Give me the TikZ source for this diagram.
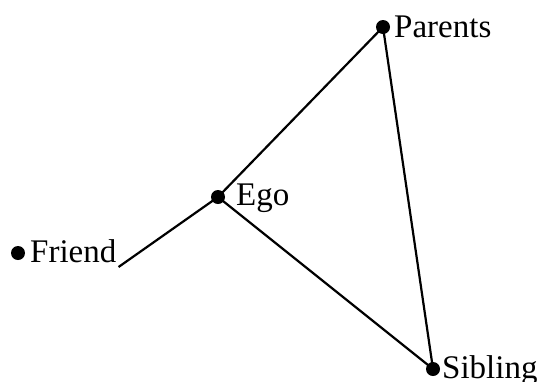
\documentclass[tikz,border=0pt]{standalone}
\usepackage{fontspec}
\setmainfont{Liberation Serif}
\begin{document}
\begin{tikzpicture}[x=1pt,y=-1pt,
  dot/.style={circle,fill=black,inner sep=0pt,minimum size=14pt},
  lbl/.style={anchor=base west,inner sep=0pt,font=\fontsize{33}{40}\selectfont},
  edge/.style={line width=2.2pt}]
\useasboundingbox (0,0) rectangle (541,381);
% vertices
\node[dot] (parents) at (383,27) {};
\node[dot] (ego) at (218,197) {};
\node[dot] (friend) at (18,253) {};
\node[dot] (sibling) at (433,369) {};
% labels
\node[lbl] (tparents) at (394,37) {Parents};
\node[lbl] (tego) at (236,205) {Ego};
\node[lbl] (tfriend) at (30,262) {Friend};
\node[lbl] (tsibling) at (442,378) {Sibling};
% ties
\draw[edge] (ego.center) -- (parents.center);
\draw[edge] (ego.center) -- (sibling.center);
\draw[edge] (parents.center) -- (sibling.center);
\draw[edge] ([shift={(2pt,-5pt)}]tfriend.base east) -- (ego.center);
\end{tikzpicture}
\end{document}
